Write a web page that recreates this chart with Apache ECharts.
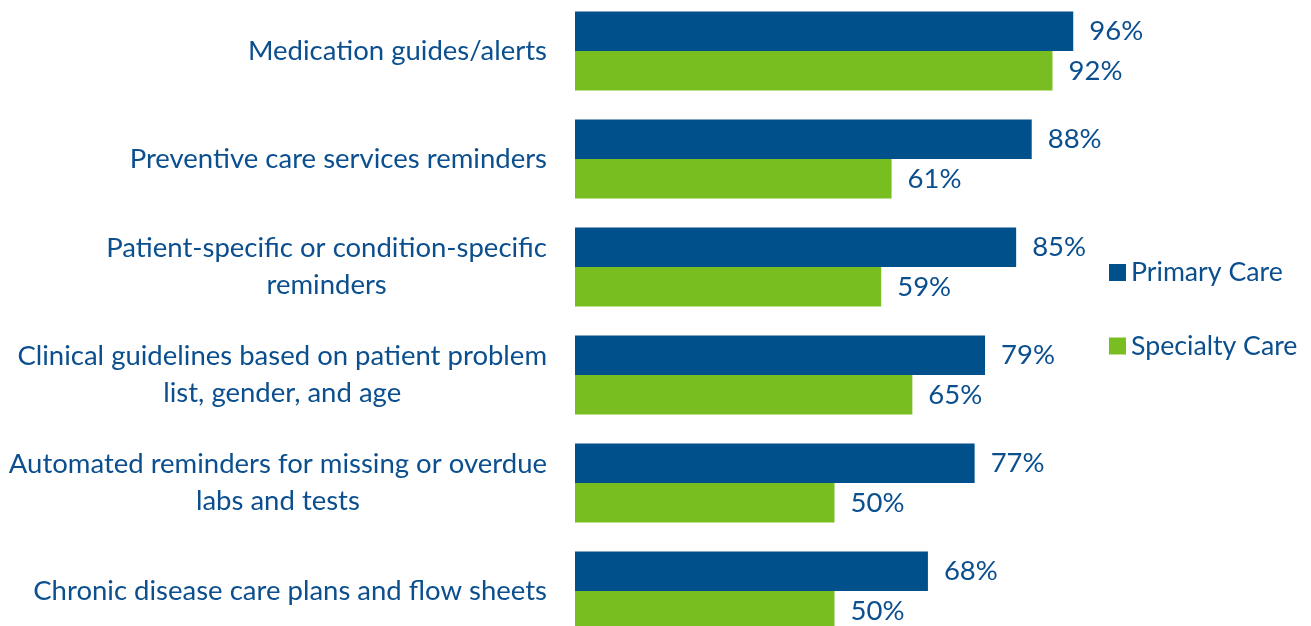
<!DOCTYPE html>
<html><head><meta charset="utf-8">
<script src="https://cdn.jsdelivr.net/npm/echarts@6/dist/echarts.min.js"></script>
<style>html,body{margin:0;padding:0;background:#fff;overflow:hidden}#c{width:1311px;height:626px}</style>
</head><body><div id="c"></div>
<script>
const categories = [
  'Medication guides/alerts',
  'Preventive care services reminders',
  'Patient-specific or condition-specific\nreminders',
  'Clinical guidelines based on patient problem\nlist, gender, and age',
  'Automated reminders for missing or overdue\nlabs and tests',
  'Chronic disease care plans and flow sheets'
];
const seriesNames = ['Primary Care', 'Specialty Care'];
const primaryCare = [96, 88, 85, 79, 77, 68];
const specialtyCare = [92, 61, 59, 65, 50, 50];

const TEXT = '#0B4F8E';
const FONT = 'Lato, "Open Sans", sans-serif';
const FS = 27.5;

const chart = echarts.init(document.getElementById('c'), null, {renderer: 'canvas'});
chart.setOption({
  animation: false,
  backgroundColor: '#ffffff',
  grid: {left: 575, right: 217, top: -3, height: 648, containLabel: false, outerBoundsMode: 'none'},
  legend: {
    orient: 'vertical', left: 1104, top: 252.5,
    itemWidth: 17, itemHeight: 17, itemGap: 43.5, icon: 'rect',
    textStyle: {color: TEXT, fontSize: 26.7, fontFamily: FONT, lineHeight: 30},
    data: seriesNames
  },
  xAxis: {type: 'value', min: 0, max: 100, show: false},
  yAxis: {
    type: 'category', inverse: true, data: categories,
    axisLine: {show: false}, axisTick: {show: false},
    axisLabel: {
      margin: 28, color: TEXT, fontFamily: FONT, fontSize: FS, align: 'right',
      formatter: function (v) { return v.split('\n').map(function (l) { return '{c|' + l + '}'; }).join('\n'); },
      rich: {c: {align: 'center', color: TEXT, fontFamily: FONT, fontSize: FS, lineHeight: 37}}
    }
  },
  series: [
    {name: seriesNames[0], type: 'bar', data: primaryCare, barGap: '0%', barCategoryGap: '27%',
     itemStyle: {color: '#00508C'},
     label: {show: true, position: 'right', distance: 16, formatter: '{c}%', color: TEXT, fontFamily: FONT, fontSize: FS}},
    {name: seriesNames[1], type: 'bar', data: specialtyCare, barGap: '0%', barCategoryGap: '27%',
     itemStyle: {color: '#78BE21'},
     label: {show: true, position: 'right', distance: 16, formatter: '{c}%', color: TEXT, fontFamily: FONT, fontSize: FS}}
  ]
});
</script></body></html>
